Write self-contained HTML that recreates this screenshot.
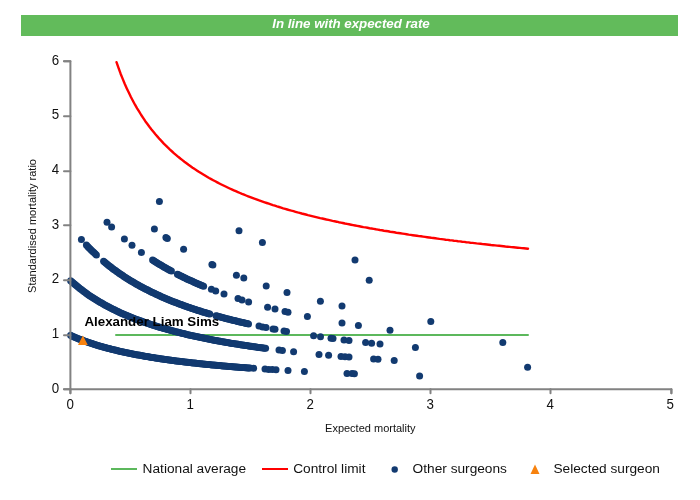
<!DOCTYPE html>
<html><head><meta charset="utf-8"><title>Funnel plot</title>
<style>
html,body{margin:0;padding:0;background:#fff;}
body{width:700px;height:500px;overflow:hidden;position:relative;font-family:"Liberation Sans",sans-serif;}
#banner{position:absolute;left:21px;top:15px;width:657px;height:21px;background:#62bb5b;color:#fff;font-weight:bold;font-style:italic;font-size:13.33px;line-height:18.5px;text-align:center;letter-spacing:-0.04px;text-indent:3px;}
svg{position:absolute;left:0;top:0;}
svg text{font-family:"Liberation Sans",sans-serif;}
</style></head><body>
<div id="banner">In line with expected rate</div>
<svg width="700" height="500" viewBox="0 0 700 500">
<line x1="116" y1="335.1" x2="528" y2="335.1" stroke="#5cb85c" stroke-width="2" stroke-linecap="round"/>
<polyline points="116.5,62.2 118.6,68.1 120.6,73.7 122.7,78.9 124.7,83.8 126.8,88.4 128.9,92.8 130.9,97.0 133.0,101.0 135.0,104.7 137.1,108.3 139.2,111.7 141.2,115.0 143.3,118.1 145.3,121.2 147.4,124.0 149.4,126.8 151.5,129.5 153.6,132.0 155.6,134.5 157.7,136.9 159.7,139.2 161.8,141.4 163.8,143.6 165.9,145.6 168.0,147.7 170.0,149.6 172.1,151.5 174.1,153.3 176.2,155.1 178.2,156.8 180.3,158.5 182.4,160.1 184.4,161.7 186.5,163.3 188.5,164.8 190.6,166.3 192.6,167.7 194.7,169.1 196.8,170.4 198.8,171.8 200.9,173.1 202.9,174.3 205.0,175.6 207.0,176.8 209.1,178.0 211.2,179.1 213.2,180.2 215.3,181.3 217.3,182.4 219.4,183.5 221.4,184.5 223.5,185.5 225.6,186.5 227.6,187.5 229.7,188.5 231.7,189.4 233.8,190.3 235.8,191.2 237.9,192.1 240.0,193.0 242.0,193.9 244.1,194.7 246.1,195.5 248.2,196.3 250.3,197.1 252.3,197.9 254.4,198.7 256.4,199.4 258.5,200.2 260.5,200.9 262.6,201.6 264.7,202.3 266.7,203.0 268.8,203.7 270.8,204.4 272.9,205.1 274.9,205.7 277.0,206.4 279.1,207.0 281.1,207.6 283.2,208.3 285.2,208.9 287.3,209.5 289.3,210.1 291.4,210.7 293.5,211.2 295.5,211.8 297.6,212.4 299.6,212.9 301.7,213.5 303.7,214.0 305.8,214.5 307.9,215.1 309.9,215.6 312.0,216.1 314.0,216.6 316.1,217.1 318.1,217.6 320.2,218.1 322.3,218.5 324.3,219.0 326.4,219.5 328.4,219.9 330.5,220.4 332.5,220.9 334.6,221.3 336.7,221.7 338.7,222.2 340.8,222.6 342.8,223.0 344.9,223.5 346.9,223.9 349.0,224.3 351.1,224.7 353.1,225.1 355.2,225.5 357.2,225.9 359.3,226.3 361.4,226.7 363.4,227.1 365.5,227.4 367.5,227.8 369.6,228.2 371.6,228.5 373.7,228.9 375.8,229.3 377.8,229.6 379.9,230.0 381.9,230.3 384.0,230.7 386.0,231.0 388.1,231.3 390.2,231.7 392.2,232.0 394.3,232.3 396.3,232.7 398.4,233.0 400.4,233.3 402.5,233.6 404.6,233.9 406.6,234.2 408.7,234.6 410.7,234.9 412.8,235.2 414.8,235.5 416.9,235.8 419.0,236.1 421.0,236.3 423.1,236.6 425.1,236.9 427.2,237.2 429.2,237.5 431.3,237.8 433.4,238.0 435.4,238.3 437.5,238.6 439.5,238.9 441.6,239.1 443.6,239.4 445.7,239.7 447.8,239.9 449.8,240.2 451.9,240.4 453.9,240.7 456.0,240.9 458.0,241.2 460.1,241.4 462.2,241.7 464.2,241.9 466.3,242.2 468.3,242.4 470.4,242.7 472.5,242.9 474.5,243.1 476.6,243.4 478.6,243.6 480.7,243.8 482.7,244.1 484.8,244.3 486.9,244.5 488.9,244.7 491.0,245.0 493.0,245.2 495.1,245.4 497.1,245.6 499.2,245.8 501.3,246.0 503.3,246.2 505.4,246.5 507.4,246.7 509.5,246.9 511.5,247.1 513.6,247.3 515.7,247.5 517.7,247.7 519.8,247.9 521.8,248.1 523.9,248.3 525.9,248.5 528.0,248.7" fill="none" stroke="#f00" stroke-width="2.4" stroke-linecap="round" stroke-linejoin="round"/>
<g fill="#123a70">
<circle cx="70.6" cy="335.3" r="3.5"/>
<circle cx="71.8" cy="335.9" r="3.5"/>
<circle cx="73.0" cy="336.4" r="3.5"/>
<circle cx="74.2" cy="336.9" r="3.5"/>
<circle cx="75.4" cy="337.4" r="3.5"/>
<circle cx="76.6" cy="337.9" r="3.5"/>
<circle cx="77.8" cy="338.4" r="3.5"/>
<circle cx="79.0" cy="338.9" r="3.5"/>
<circle cx="80.2" cy="339.4" r="3.5"/>
<circle cx="81.4" cy="339.8" r="3.5"/>
<circle cx="82.6" cy="340.3" r="3.5"/>
<circle cx="83.8" cy="340.7" r="3.5"/>
<circle cx="85.0" cy="341.2" r="3.5"/>
<circle cx="86.1" cy="341.6" r="3.5"/>
<circle cx="87.3" cy="342.0" r="3.5"/>
<circle cx="88.5" cy="342.4" r="3.5"/>
<circle cx="89.7" cy="342.8" r="3.5"/>
<circle cx="90.9" cy="343.2" r="3.5"/>
<circle cx="92.1" cy="343.6" r="3.5"/>
<circle cx="93.3" cy="344.0" r="3.5"/>
<circle cx="94.5" cy="344.4" r="3.5"/>
<circle cx="95.7" cy="344.8" r="3.5"/>
<circle cx="96.9" cy="345.2" r="3.5"/>
<circle cx="98.1" cy="345.5" r="3.5"/>
<circle cx="99.3" cy="345.9" r="3.5"/>
<circle cx="100.5" cy="346.2" r="3.5"/>
<circle cx="101.7" cy="346.6" r="3.5"/>
<circle cx="102.9" cy="346.9" r="3.5"/>
<circle cx="104.1" cy="347.2" r="3.5"/>
<circle cx="105.3" cy="347.6" r="3.5"/>
<circle cx="106.5" cy="347.9" r="3.5"/>
<circle cx="107.7" cy="348.2" r="3.5"/>
<circle cx="108.9" cy="348.5" r="3.5"/>
<circle cx="110.1" cy="348.8" r="3.5"/>
<circle cx="111.3" cy="349.2" r="3.5"/>
<circle cx="112.5" cy="349.5" r="3.5"/>
<circle cx="113.7" cy="349.8" r="3.5"/>
<circle cx="114.9" cy="350.0" r="3.5"/>
<circle cx="116.0" cy="350.3" r="3.5"/>
<circle cx="117.2" cy="350.6" r="3.5"/>
<circle cx="118.4" cy="350.9" r="3.5"/>
<circle cx="119.6" cy="351.2" r="3.5"/>
<circle cx="120.8" cy="351.4" r="3.5"/>
<circle cx="122.0" cy="351.7" r="3.5"/>
<circle cx="123.2" cy="352.0" r="3.5"/>
<circle cx="124.4" cy="352.2" r="3.5"/>
<circle cx="125.6" cy="352.5" r="3.5"/>
<circle cx="126.8" cy="352.8" r="3.5"/>
<circle cx="128.0" cy="353.0" r="3.5"/>
<circle cx="129.2" cy="353.3" r="3.5"/>
<circle cx="130.4" cy="353.5" r="3.5"/>
<circle cx="131.6" cy="353.7" r="3.5"/>
<circle cx="132.8" cy="354.0" r="3.5"/>
<circle cx="134.0" cy="354.2" r="3.5"/>
<circle cx="135.2" cy="354.4" r="3.5"/>
<circle cx="136.4" cy="354.7" r="3.5"/>
<circle cx="137.6" cy="354.9" r="3.5"/>
<circle cx="138.8" cy="355.1" r="3.5"/>
<circle cx="140.0" cy="355.3" r="3.5"/>
<circle cx="141.2" cy="355.6" r="3.5"/>
<circle cx="142.4" cy="355.8" r="3.5"/>
<circle cx="143.6" cy="356.0" r="3.5"/>
<circle cx="144.8" cy="356.2" r="3.5"/>
<circle cx="145.9" cy="356.4" r="3.5"/>
<circle cx="147.1" cy="356.6" r="3.5"/>
<circle cx="148.3" cy="356.8" r="3.5"/>
<circle cx="149.5" cy="357.0" r="3.5"/>
<circle cx="150.7" cy="357.2" r="3.5"/>
<circle cx="151.9" cy="357.4" r="3.5"/>
<circle cx="153.1" cy="357.6" r="3.5"/>
<circle cx="154.3" cy="357.8" r="3.5"/>
<circle cx="155.5" cy="358.0" r="3.5"/>
<circle cx="156.7" cy="358.2" r="3.5"/>
<circle cx="157.9" cy="358.3" r="3.5"/>
<circle cx="159.1" cy="358.5" r="3.5"/>
<circle cx="160.3" cy="358.7" r="3.5"/>
<circle cx="161.5" cy="358.9" r="3.5"/>
<circle cx="162.7" cy="359.1" r="3.5"/>
<circle cx="163.9" cy="359.2" r="3.5"/>
<circle cx="165.1" cy="359.4" r="3.5"/>
<circle cx="166.3" cy="359.6" r="3.5"/>
<circle cx="167.5" cy="359.7" r="3.5"/>
<circle cx="168.7" cy="359.9" r="3.5"/>
<circle cx="169.9" cy="360.1" r="3.5"/>
<circle cx="171.1" cy="360.2" r="3.5"/>
<circle cx="172.3" cy="360.4" r="3.5"/>
<circle cx="173.5" cy="360.5" r="3.5"/>
<circle cx="174.7" cy="360.7" r="3.5"/>
<circle cx="175.8" cy="360.9" r="3.5"/>
<circle cx="177.0" cy="361.0" r="3.5"/>
<circle cx="178.2" cy="361.2" r="3.5"/>
<circle cx="179.4" cy="361.3" r="3.5"/>
<circle cx="180.6" cy="361.5" r="3.5"/>
<circle cx="181.8" cy="361.6" r="3.5"/>
<circle cx="183.0" cy="361.8" r="3.5"/>
<circle cx="184.2" cy="361.9" r="3.5"/>
<circle cx="185.4" cy="362.0" r="3.5"/>
<circle cx="186.6" cy="362.2" r="3.5"/>
<circle cx="187.8" cy="362.3" r="3.5"/>
<circle cx="189.0" cy="362.5" r="3.5"/>
<circle cx="190.2" cy="362.6" r="3.5"/>
<circle cx="191.4" cy="362.7" r="3.5"/>
<circle cx="192.6" cy="362.9" r="3.5"/>
<circle cx="193.8" cy="363.0" r="3.5"/>
<circle cx="195.0" cy="363.1" r="3.5"/>
<circle cx="196.2" cy="363.3" r="3.5"/>
<circle cx="197.4" cy="363.4" r="3.5"/>
<circle cx="198.6" cy="363.5" r="3.5"/>
<circle cx="199.8" cy="363.7" r="3.5"/>
<circle cx="201.0" cy="363.8" r="3.5"/>
<circle cx="202.2" cy="363.9" r="3.5"/>
<circle cx="203.4" cy="364.0" r="3.5"/>
<circle cx="204.6" cy="364.2" r="3.5"/>
<circle cx="205.7" cy="364.3" r="3.5"/>
<circle cx="206.9" cy="364.4" r="3.5"/>
<circle cx="208.1" cy="364.5" r="3.5"/>
<circle cx="209.3" cy="364.6" r="3.5"/>
<circle cx="210.5" cy="364.7" r="3.5"/>
<circle cx="211.7" cy="364.9" r="3.5"/>
<circle cx="212.9" cy="365.0" r="3.5"/>
<circle cx="214.1" cy="365.1" r="3.5"/>
<circle cx="215.3" cy="365.2" r="3.5"/>
<circle cx="216.5" cy="365.3" r="3.5"/>
<circle cx="217.7" cy="365.4" r="3.5"/>
<circle cx="218.9" cy="365.5" r="3.5"/>
<circle cx="220.1" cy="365.6" r="3.5"/>
<circle cx="221.3" cy="365.8" r="3.5"/>
<circle cx="222.5" cy="365.9" r="3.5"/>
<circle cx="223.7" cy="366.0" r="3.5"/>
<circle cx="224.9" cy="366.1" r="3.5"/>
<circle cx="226.1" cy="366.2" r="3.5"/>
<circle cx="227.3" cy="366.3" r="3.5"/>
<circle cx="228.5" cy="366.4" r="3.5"/>
<circle cx="229.7" cy="366.5" r="3.5"/>
<circle cx="230.9" cy="366.6" r="3.5"/>
<circle cx="232.1" cy="366.7" r="3.5"/>
<circle cx="233.3" cy="366.8" r="3.5"/>
<circle cx="234.5" cy="366.9" r="3.5"/>
<circle cx="235.6" cy="367.0" r="3.5"/>
<circle cx="236.8" cy="367.1" r="3.5"/>
<circle cx="238.0" cy="367.2" r="3.5"/>
<circle cx="239.2" cy="367.3" r="3.5"/>
<circle cx="240.4" cy="367.4" r="3.5"/>
<circle cx="241.6" cy="367.4" r="3.5"/>
<circle cx="242.8" cy="367.5" r="3.5"/>
<circle cx="244.0" cy="367.6" r="3.5"/>
<circle cx="245.2" cy="367.7" r="3.5"/>
<circle cx="246.4" cy="367.8" r="3.5"/>
<circle cx="247.6" cy="367.9" r="3.5"/>
<circle cx="248.8" cy="368.0" r="3.5"/>
<circle cx="250.0" cy="368.1" r="3.5"/>
<circle cx="253.6" cy="368.3" r="3.5"/>
<circle cx="265.0" cy="369.1" r="3.5"/>
<circle cx="268.7" cy="369.4" r="3.5"/>
<circle cx="272.3" cy="369.6" r="3.5"/>
<circle cx="276.0" cy="369.8" r="3.5"/>
<circle cx="288.0" cy="370.5" r="3.5"/>
<circle cx="304.4" cy="371.4" r="3.5"/>
<circle cx="347.0" cy="373.4" r="3.5"/>
<circle cx="352.0" cy="373.6" r="3.5"/>
<circle cx="354.4" cy="373.7" r="3.5"/>
<circle cx="419.6" cy="376.0" r="3.5"/>
<circle cx="70.6" cy="280.7" r="3.5"/>
<circle cx="71.8" cy="281.7" r="3.5"/>
<circle cx="73.0" cy="282.8" r="3.5"/>
<circle cx="74.2" cy="283.8" r="3.5"/>
<circle cx="75.4" cy="284.8" r="3.5"/>
<circle cx="76.6" cy="285.8" r="3.5"/>
<circle cx="77.8" cy="286.8" r="3.5"/>
<circle cx="79.0" cy="287.8" r="3.5"/>
<circle cx="80.2" cy="288.7" r="3.5"/>
<circle cx="81.4" cy="289.6" r="3.5"/>
<circle cx="82.6" cy="290.6" r="3.5"/>
<circle cx="83.8" cy="291.4" r="3.5"/>
<circle cx="85.0" cy="292.3" r="3.5"/>
<circle cx="86.2" cy="293.2" r="3.5"/>
<circle cx="87.3" cy="294.0" r="3.5"/>
<circle cx="88.5" cy="294.9" r="3.5"/>
<circle cx="89.7" cy="295.7" r="3.5"/>
<circle cx="90.9" cy="296.5" r="3.5"/>
<circle cx="92.1" cy="297.3" r="3.5"/>
<circle cx="93.3" cy="298.1" r="3.5"/>
<circle cx="94.5" cy="298.8" r="3.5"/>
<circle cx="95.7" cy="299.6" r="3.5"/>
<circle cx="96.9" cy="300.3" r="3.5"/>
<circle cx="98.1" cy="301.0" r="3.5"/>
<circle cx="99.3" cy="301.7" r="3.5"/>
<circle cx="100.5" cy="302.5" r="3.5"/>
<circle cx="101.7" cy="303.1" r="3.5"/>
<circle cx="102.9" cy="303.8" r="3.5"/>
<circle cx="104.1" cy="304.5" r="3.5"/>
<circle cx="105.3" cy="305.2" r="3.5"/>
<circle cx="106.5" cy="305.8" r="3.5"/>
<circle cx="107.7" cy="306.5" r="3.5"/>
<circle cx="108.9" cy="307.1" r="3.5"/>
<circle cx="110.1" cy="307.7" r="3.5"/>
<circle cx="111.3" cy="308.3" r="3.5"/>
<circle cx="112.5" cy="308.9" r="3.5"/>
<circle cx="113.7" cy="309.5" r="3.5"/>
<circle cx="114.9" cy="310.1" r="3.5"/>
<circle cx="116.1" cy="310.7" r="3.5"/>
<circle cx="117.3" cy="311.2" r="3.5"/>
<circle cx="118.5" cy="311.8" r="3.5"/>
<circle cx="119.6" cy="312.4" r="3.5"/>
<circle cx="120.8" cy="312.9" r="3.5"/>
<circle cx="122.0" cy="313.4" r="3.5"/>
<circle cx="123.2" cy="314.0" r="3.5"/>
<circle cx="124.4" cy="314.5" r="3.5"/>
<circle cx="125.6" cy="315.0" r="3.5"/>
<circle cx="126.8" cy="315.5" r="3.5"/>
<circle cx="128.0" cy="316.0" r="3.5"/>
<circle cx="129.2" cy="316.5" r="3.5"/>
<circle cx="130.4" cy="317.0" r="3.5"/>
<circle cx="131.6" cy="317.5" r="3.5"/>
<circle cx="132.8" cy="318.0" r="3.5"/>
<circle cx="134.0" cy="318.4" r="3.5"/>
<circle cx="135.2" cy="318.9" r="3.5"/>
<circle cx="136.4" cy="319.4" r="3.5"/>
<circle cx="137.6" cy="319.8" r="3.5"/>
<circle cx="138.8" cy="320.3" r="3.5"/>
<circle cx="140.0" cy="320.7" r="3.5"/>
<circle cx="141.2" cy="321.1" r="3.5"/>
<circle cx="142.4" cy="321.6" r="3.5"/>
<circle cx="143.6" cy="322.0" r="3.5"/>
<circle cx="144.8" cy="322.4" r="3.5"/>
<circle cx="146.0" cy="322.8" r="3.5"/>
<circle cx="147.2" cy="323.2" r="3.5"/>
<circle cx="148.4" cy="323.6" r="3.5"/>
<circle cx="149.6" cy="324.0" r="3.5"/>
<circle cx="150.8" cy="324.4" r="3.5"/>
<circle cx="151.9" cy="324.8" r="3.5"/>
<circle cx="153.1" cy="325.2" r="3.5"/>
<circle cx="154.3" cy="325.6" r="3.5"/>
<circle cx="155.5" cy="325.9" r="3.5"/>
<circle cx="156.7" cy="326.3" r="3.5"/>
<circle cx="157.9" cy="326.7" r="3.5"/>
<circle cx="159.1" cy="327.1" r="3.5"/>
<circle cx="160.3" cy="327.4" r="3.5"/>
<circle cx="161.5" cy="327.8" r="3.5"/>
<circle cx="162.7" cy="328.1" r="3.5"/>
<circle cx="163.9" cy="328.5" r="3.5"/>
<circle cx="165.1" cy="328.8" r="3.5"/>
<circle cx="166.3" cy="329.1" r="3.5"/>
<circle cx="167.5" cy="329.5" r="3.5"/>
<circle cx="168.7" cy="329.8" r="3.5"/>
<circle cx="169.9" cy="330.1" r="3.5"/>
<circle cx="171.1" cy="330.5" r="3.5"/>
<circle cx="172.3" cy="330.8" r="3.5"/>
<circle cx="173.5" cy="331.1" r="3.5"/>
<circle cx="174.7" cy="331.4" r="3.5"/>
<circle cx="175.9" cy="331.7" r="3.5"/>
<circle cx="177.1" cy="332.0" r="3.5"/>
<circle cx="178.3" cy="332.3" r="3.5"/>
<circle cx="179.5" cy="332.6" r="3.5"/>
<circle cx="180.7" cy="332.9" r="3.5"/>
<circle cx="181.9" cy="333.2" r="3.5"/>
<circle cx="183.1" cy="333.5" r="3.5"/>
<circle cx="184.3" cy="333.8" r="3.5"/>
<circle cx="185.4" cy="334.1" r="3.5"/>
<circle cx="186.6" cy="334.4" r="3.5"/>
<circle cx="187.8" cy="334.7" r="3.5"/>
<circle cx="189.0" cy="334.9" r="3.5"/>
<circle cx="190.2" cy="335.2" r="3.5"/>
<circle cx="191.4" cy="335.5" r="3.5"/>
<circle cx="192.6" cy="335.8" r="3.5"/>
<circle cx="193.8" cy="336.0" r="3.5"/>
<circle cx="195.0" cy="336.3" r="3.5"/>
<circle cx="196.2" cy="336.6" r="3.5"/>
<circle cx="197.4" cy="336.8" r="3.5"/>
<circle cx="198.6" cy="337.1" r="3.5"/>
<circle cx="199.8" cy="337.3" r="3.5"/>
<circle cx="201.0" cy="337.6" r="3.5"/>
<circle cx="202.2" cy="337.8" r="3.5"/>
<circle cx="203.4" cy="338.1" r="3.5"/>
<circle cx="204.6" cy="338.3" r="3.5"/>
<circle cx="205.8" cy="338.6" r="3.5"/>
<circle cx="207.0" cy="338.8" r="3.5"/>
<circle cx="208.2" cy="339.0" r="3.5"/>
<circle cx="209.4" cy="339.3" r="3.5"/>
<circle cx="210.6" cy="339.5" r="3.5"/>
<circle cx="211.8" cy="339.7" r="3.5"/>
<circle cx="213.0" cy="340.0" r="3.5"/>
<circle cx="214.2" cy="340.2" r="3.5"/>
<circle cx="215.4" cy="340.4" r="3.5"/>
<circle cx="216.6" cy="340.6" r="3.5"/>
<circle cx="217.7" cy="340.9" r="3.5"/>
<circle cx="218.9" cy="341.1" r="3.5"/>
<circle cx="220.1" cy="341.3" r="3.5"/>
<circle cx="221.3" cy="341.5" r="3.5"/>
<circle cx="222.5" cy="341.7" r="3.5"/>
<circle cx="223.7" cy="341.9" r="3.5"/>
<circle cx="224.9" cy="342.1" r="3.5"/>
<circle cx="226.1" cy="342.4" r="3.5"/>
<circle cx="227.3" cy="342.6" r="3.5"/>
<circle cx="228.5" cy="342.8" r="3.5"/>
<circle cx="229.7" cy="343.0" r="3.5"/>
<circle cx="230.9" cy="343.2" r="3.5"/>
<circle cx="232.1" cy="343.4" r="3.5"/>
<circle cx="233.3" cy="343.6" r="3.5"/>
<circle cx="234.5" cy="343.8" r="3.5"/>
<circle cx="235.7" cy="344.0" r="3.5"/>
<circle cx="236.9" cy="344.1" r="3.5"/>
<circle cx="238.1" cy="344.3" r="3.5"/>
<circle cx="239.3" cy="344.5" r="3.5"/>
<circle cx="240.5" cy="344.7" r="3.5"/>
<circle cx="241.7" cy="344.9" r="3.5"/>
<circle cx="242.9" cy="345.1" r="3.5"/>
<circle cx="244.1" cy="345.3" r="3.5"/>
<circle cx="245.3" cy="345.4" r="3.5"/>
<circle cx="246.5" cy="345.6" r="3.5"/>
<circle cx="247.7" cy="345.8" r="3.5"/>
<circle cx="248.9" cy="346.0" r="3.5"/>
<circle cx="250.0" cy="346.2" r="3.5"/>
<circle cx="251.2" cy="346.3" r="3.5"/>
<circle cx="252.4" cy="346.5" r="3.5"/>
<circle cx="253.6" cy="346.7" r="3.5"/>
<circle cx="254.8" cy="346.8" r="3.5"/>
<circle cx="256.0" cy="347.0" r="3.5"/>
<circle cx="257.2" cy="347.2" r="3.5"/>
<circle cx="258.4" cy="347.4" r="3.5"/>
<circle cx="259.6" cy="347.5" r="3.5"/>
<circle cx="260.8" cy="347.7" r="3.5"/>
<circle cx="262.0" cy="347.8" r="3.5"/>
<circle cx="263.2" cy="348.0" r="3.5"/>
<circle cx="264.4" cy="348.2" r="3.5"/>
<circle cx="265.6" cy="348.3" r="3.5"/>
<circle cx="279.0" cy="350.0" r="3.5"/>
<circle cx="282.4" cy="350.4" r="3.5"/>
<circle cx="293.6" cy="351.7" r="3.5"/>
<circle cx="319.0" cy="354.4" r="3.5"/>
<circle cx="328.6" cy="355.3" r="3.5"/>
<circle cx="341.0" cy="356.4" r="3.5"/>
<circle cx="345.0" cy="356.7" r="3.5"/>
<circle cx="349.0" cy="357.0" r="3.5"/>
<circle cx="373.6" cy="359.0" r="3.5"/>
<circle cx="378.0" cy="359.3" r="3.5"/>
<circle cx="394.2" cy="360.4" r="3.5"/>
<circle cx="527.6" cy="367.2" r="3.5"/>
<circle cx="81.4" cy="239.5" r="3.5"/>
<circle cx="86.4" cy="245.0" r="3.5"/>
<circle cx="87.7" cy="246.4" r="3.5"/>
<circle cx="88.9" cy="247.7" r="3.5"/>
<circle cx="90.2" cy="248.9" r="3.5"/>
<circle cx="91.4" cy="250.2" r="3.5"/>
<circle cx="92.7" cy="251.4" r="3.5"/>
<circle cx="93.9" cy="252.6" r="3.5"/>
<circle cx="95.2" cy="253.8" r="3.5"/>
<circle cx="96.4" cy="255.0" r="3.5"/>
<circle cx="103.6" cy="261.3" r="3.5"/>
<circle cx="104.8" cy="262.3" r="3.5"/>
<circle cx="106.0" cy="263.3" r="3.5"/>
<circle cx="107.2" cy="264.3" r="3.5"/>
<circle cx="108.4" cy="265.2" r="3.5"/>
<circle cx="109.6" cy="266.2" r="3.5"/>
<circle cx="110.8" cy="267.1" r="3.5"/>
<circle cx="112.0" cy="268.0" r="3.5"/>
<circle cx="113.1" cy="268.9" r="3.5"/>
<circle cx="114.3" cy="269.8" r="3.5"/>
<circle cx="115.5" cy="270.6" r="3.5"/>
<circle cx="116.7" cy="271.5" r="3.5"/>
<circle cx="117.9" cy="272.3" r="3.5"/>
<circle cx="119.1" cy="273.2" r="3.5"/>
<circle cx="120.3" cy="274.0" r="3.5"/>
<circle cx="121.5" cy="274.8" r="3.5"/>
<circle cx="122.7" cy="275.6" r="3.5"/>
<circle cx="123.9" cy="276.4" r="3.5"/>
<circle cx="125.1" cy="277.2" r="3.5"/>
<circle cx="126.3" cy="277.9" r="3.5"/>
<circle cx="127.5" cy="278.7" r="3.5"/>
<circle cx="128.7" cy="279.4" r="3.5"/>
<circle cx="129.9" cy="280.2" r="3.5"/>
<circle cx="131.0" cy="280.9" r="3.5"/>
<circle cx="132.2" cy="281.6" r="3.5"/>
<circle cx="133.4" cy="282.3" r="3.5"/>
<circle cx="134.6" cy="283.0" r="3.5"/>
<circle cx="135.8" cy="283.7" r="3.5"/>
<circle cx="137.0" cy="284.4" r="3.5"/>
<circle cx="138.2" cy="285.1" r="3.5"/>
<circle cx="139.4" cy="285.7" r="3.5"/>
<circle cx="140.6" cy="286.4" r="3.5"/>
<circle cx="141.8" cy="287.0" r="3.5"/>
<circle cx="143.0" cy="287.7" r="3.5"/>
<circle cx="144.2" cy="288.3" r="3.5"/>
<circle cx="145.4" cy="288.9" r="3.5"/>
<circle cx="146.6" cy="289.5" r="3.5"/>
<circle cx="147.8" cy="290.1" r="3.5"/>
<circle cx="148.9" cy="290.7" r="3.5"/>
<circle cx="150.1" cy="291.3" r="3.5"/>
<circle cx="151.3" cy="291.9" r="3.5"/>
<circle cx="152.5" cy="292.5" r="3.5"/>
<circle cx="153.7" cy="293.1" r="3.5"/>
<circle cx="154.9" cy="293.6" r="3.5"/>
<circle cx="156.1" cy="294.2" r="3.5"/>
<circle cx="157.3" cy="294.7" r="3.5"/>
<circle cx="158.5" cy="295.3" r="3.5"/>
<circle cx="159.7" cy="295.8" r="3.5"/>
<circle cx="160.9" cy="296.4" r="3.5"/>
<circle cx="162.1" cy="296.9" r="3.5"/>
<circle cx="163.3" cy="297.4" r="3.5"/>
<circle cx="164.5" cy="297.9" r="3.5"/>
<circle cx="165.6" cy="298.4" r="3.5"/>
<circle cx="166.8" cy="298.9" r="3.5"/>
<circle cx="168.0" cy="299.4" r="3.5"/>
<circle cx="169.2" cy="299.9" r="3.5"/>
<circle cx="170.4" cy="300.4" r="3.5"/>
<circle cx="171.6" cy="300.9" r="3.5"/>
<circle cx="172.8" cy="301.4" r="3.5"/>
<circle cx="174.0" cy="301.9" r="3.5"/>
<circle cx="175.2" cy="302.3" r="3.5"/>
<circle cx="176.4" cy="302.8" r="3.5"/>
<circle cx="177.6" cy="303.3" r="3.5"/>
<circle cx="178.8" cy="303.7" r="3.5"/>
<circle cx="180.0" cy="304.2" r="3.5"/>
<circle cx="181.2" cy="304.6" r="3.5"/>
<circle cx="182.4" cy="305.0" r="3.5"/>
<circle cx="183.5" cy="305.5" r="3.5"/>
<circle cx="184.7" cy="305.9" r="3.5"/>
<circle cx="185.9" cy="306.3" r="3.5"/>
<circle cx="187.1" cy="306.8" r="3.5"/>
<circle cx="188.3" cy="307.2" r="3.5"/>
<circle cx="189.5" cy="307.6" r="3.5"/>
<circle cx="190.7" cy="308.0" r="3.5"/>
<circle cx="191.9" cy="308.4" r="3.5"/>
<circle cx="193.1" cy="308.8" r="3.5"/>
<circle cx="194.3" cy="309.2" r="3.5"/>
<circle cx="195.5" cy="309.6" r="3.5"/>
<circle cx="196.7" cy="310.0" r="3.5"/>
<circle cx="197.9" cy="310.4" r="3.5"/>
<circle cx="199.1" cy="310.7" r="3.5"/>
<circle cx="200.3" cy="311.1" r="3.5"/>
<circle cx="201.4" cy="311.5" r="3.5"/>
<circle cx="202.6" cy="311.9" r="3.5"/>
<circle cx="203.8" cy="312.2" r="3.5"/>
<circle cx="205.0" cy="312.6" r="3.5"/>
<circle cx="206.2" cy="313.0" r="3.5"/>
<circle cx="207.4" cy="313.3" r="3.5"/>
<circle cx="208.6" cy="313.7" r="3.5"/>
<circle cx="209.8" cy="314.0" r="3.5"/>
<circle cx="216.0" cy="315.8" r="3.5"/>
<circle cx="217.2" cy="316.1" r="3.5"/>
<circle cx="218.4" cy="316.5" r="3.5"/>
<circle cx="219.6" cy="316.8" r="3.5"/>
<circle cx="220.8" cy="317.1" r="3.5"/>
<circle cx="222.0" cy="317.4" r="3.5"/>
<circle cx="223.2" cy="317.8" r="3.5"/>
<circle cx="224.4" cy="318.1" r="3.5"/>
<circle cx="225.6" cy="318.4" r="3.5"/>
<circle cx="226.8" cy="318.7" r="3.5"/>
<circle cx="228.0" cy="319.0" r="3.5"/>
<circle cx="229.2" cy="319.3" r="3.5"/>
<circle cx="230.4" cy="319.6" r="3.5"/>
<circle cx="231.6" cy="319.9" r="3.5"/>
<circle cx="232.9" cy="320.2" r="3.5"/>
<circle cx="234.1" cy="320.5" r="3.5"/>
<circle cx="235.3" cy="320.8" r="3.5"/>
<circle cx="236.5" cy="321.1" r="3.5"/>
<circle cx="237.7" cy="321.4" r="3.5"/>
<circle cx="238.9" cy="321.7" r="3.5"/>
<circle cx="240.1" cy="322.0" r="3.5"/>
<circle cx="241.3" cy="322.3" r="3.5"/>
<circle cx="242.5" cy="322.5" r="3.5"/>
<circle cx="243.7" cy="322.8" r="3.5"/>
<circle cx="244.9" cy="323.1" r="3.5"/>
<circle cx="246.1" cy="323.4" r="3.5"/>
<circle cx="247.3" cy="323.6" r="3.5"/>
<circle cx="248.5" cy="323.9" r="3.5"/>
<circle cx="259.0" cy="326.1" r="3.5"/>
<circle cx="262.5" cy="326.9" r="3.5"/>
<circle cx="266.0" cy="327.6" r="3.5"/>
<circle cx="273.0" cy="328.9" r="3.5"/>
<circle cx="275.0" cy="329.3" r="3.5"/>
<circle cx="284.0" cy="330.9" r="3.5"/>
<circle cx="286.5" cy="331.4" r="3.5"/>
<circle cx="313.6" cy="335.7" r="3.5"/>
<circle cx="320.5" cy="336.8" r="3.5"/>
<circle cx="331.0" cy="338.2" r="3.5"/>
<circle cx="333.0" cy="338.5" r="3.5"/>
<circle cx="344.0" cy="339.9" r="3.5"/>
<circle cx="349.0" cy="340.6" r="3.5"/>
<circle cx="365.6" cy="342.5" r="3.5"/>
<circle cx="371.6" cy="343.2" r="3.5"/>
<circle cx="380.0" cy="344.1" r="3.5"/>
<circle cx="415.4" cy="347.6" r="3.5"/>
<circle cx="107.0" cy="222.2" r="3.5"/>
<circle cx="111.6" cy="227.0" r="3.5"/>
<circle cx="124.4" cy="239.0" r="3.5"/>
<circle cx="132.0" cy="245.3" r="3.5"/>
<circle cx="141.4" cy="252.4" r="3.5"/>
<circle cx="152.6" cy="260.0" r="3.5"/>
<circle cx="153.8" cy="260.8" r="3.5"/>
<circle cx="154.9" cy="261.5" r="3.5"/>
<circle cx="156.1" cy="262.3" r="3.5"/>
<circle cx="157.3" cy="263.0" r="3.5"/>
<circle cx="158.5" cy="263.7" r="3.5"/>
<circle cx="159.7" cy="264.4" r="3.5"/>
<circle cx="160.8" cy="265.1" r="3.5"/>
<circle cx="162.0" cy="265.8" r="3.5"/>
<circle cx="163.2" cy="266.5" r="3.5"/>
<circle cx="164.3" cy="267.2" r="3.5"/>
<circle cx="165.5" cy="267.8" r="3.5"/>
<circle cx="166.7" cy="268.5" r="3.5"/>
<circle cx="167.9" cy="269.2" r="3.5"/>
<circle cx="169.1" cy="269.8" r="3.5"/>
<circle cx="170.2" cy="270.5" r="3.5"/>
<circle cx="171.4" cy="271.1" r="3.5"/>
<circle cx="177.4" cy="274.2" r="3.5"/>
<circle cx="178.6" cy="274.8" r="3.5"/>
<circle cx="179.8" cy="275.4" r="3.5"/>
<circle cx="181.0" cy="276.0" r="3.5"/>
<circle cx="182.2" cy="276.6" r="3.5"/>
<circle cx="183.4" cy="277.2" r="3.5"/>
<circle cx="184.5" cy="277.8" r="3.5"/>
<circle cx="185.7" cy="278.3" r="3.5"/>
<circle cx="186.9" cy="278.9" r="3.5"/>
<circle cx="188.1" cy="279.5" r="3.5"/>
<circle cx="189.3" cy="280.0" r="3.5"/>
<circle cx="190.5" cy="280.6" r="3.5"/>
<circle cx="191.7" cy="281.1" r="3.5"/>
<circle cx="192.9" cy="281.6" r="3.5"/>
<circle cx="194.1" cy="282.2" r="3.5"/>
<circle cx="195.3" cy="282.7" r="3.5"/>
<circle cx="196.5" cy="283.2" r="3.5"/>
<circle cx="197.6" cy="283.7" r="3.5"/>
<circle cx="198.8" cy="284.2" r="3.5"/>
<circle cx="200.0" cy="284.7" r="3.5"/>
<circle cx="201.2" cy="285.2" r="3.5"/>
<circle cx="202.4" cy="285.7" r="3.5"/>
<circle cx="203.6" cy="286.2" r="3.5"/>
<circle cx="211.4" cy="289.3" r="3.5"/>
<circle cx="215.7" cy="291.0" r="3.5"/>
<circle cx="224.0" cy="294.0" r="3.5"/>
<circle cx="238.0" cy="298.6" r="3.5"/>
<circle cx="242.0" cy="299.9" r="3.5"/>
<circle cx="248.6" cy="301.9" r="3.5"/>
<circle cx="267.6" cy="307.2" r="3.5"/>
<circle cx="275.0" cy="309.1" r="3.5"/>
<circle cx="285.0" cy="311.5" r="3.5"/>
<circle cx="288.0" cy="312.2" r="3.5"/>
<circle cx="307.4" cy="316.4" r="3.5"/>
<circle cx="342.0" cy="322.9" r="3.5"/>
<circle cx="358.4" cy="325.6" r="3.5"/>
<circle cx="390.0" cy="330.2" r="3.5"/>
<circle cx="502.8" cy="342.4" r="3.5"/>
<circle cx="154.4" cy="229.0" r="3.5"/>
<circle cx="165.9" cy="237.6" r="3.5"/>
<circle cx="167.3" cy="238.6" r="3.5"/>
<circle cx="183.6" cy="249.2" r="3.5"/>
<circle cx="211.9" cy="264.4" r="3.5"/>
<circle cx="212.9" cy="264.9" r="3.5"/>
<circle cx="236.4" cy="275.2" r="3.5"/>
<circle cx="243.8" cy="278.1" r="3.5"/>
<circle cx="266.2" cy="286.0" r="3.5"/>
<circle cx="287.0" cy="292.4" r="3.5"/>
<circle cx="320.4" cy="301.2" r="3.5"/>
<circle cx="342.0" cy="306.1" r="3.5"/>
<circle cx="430.8" cy="321.6" r="3.5"/>
<circle cx="159.4" cy="201.4" r="3.5"/>
<circle cx="239.0" cy="230.7" r="3.5"/>
<circle cx="262.4" cy="242.6" r="3.5"/>
<circle cx="369.2" cy="280.2" r="3.5"/>
<circle cx="355.0" cy="260.1" r="3.5"/>
</g>
<polygon points="82.9,335.4 87.8,344.9 78,344.9" fill="#f7820e"/>
<g stroke="#828282" stroke-width="2" fill="none" stroke-linecap="round" stroke-linejoin="round">
<polyline points="64,61.3 70.4,61.3 70.4,393.3"/>
<polyline points="64,389.3 671.4,389.3 671.4,393.3"/>
<line x1="64" y1="389.3" x2="70.4" y2="389.3"/>
<line x1="64" y1="335.3" x2="70.4" y2="335.3"/>
<line x1="64" y1="280.3" x2="70.4" y2="280.3"/>
<line x1="64" y1="225.3" x2="70.4" y2="225.3"/>
<line x1="64" y1="171.3" x2="70.4" y2="171.3"/>
<line x1="64" y1="116.3" x2="70.4" y2="116.3"/>
<line x1="64" y1="61.3" x2="70.4" y2="61.3"/>
<line x1="70.4" y1="389.3" x2="70.4" y2="393.3"/>
<line x1="190.5" y1="389.3" x2="190.5" y2="393.3"/>
<line x1="310.5" y1="389.3" x2="310.5" y2="393.3"/>
<line x1="430.5" y1="389.3" x2="430.5" y2="393.3"/>
<line x1="550.5" y1="389.3" x2="550.5" y2="393.3"/>
<line x1="671.4" y1="389.3" x2="671.4" y2="393.3"/>
</g>
<g font-size="13.33" fill="#111">
<text transform="translate(59.1,392.6) scale(1,1.07)" text-anchor="end">0</text>
<text transform="translate(59.1,337.9) scale(1,1.07)" text-anchor="end">1</text>
<text transform="translate(59.1,283.3) scale(1,1.07)" text-anchor="end">2</text>
<text transform="translate(59.1,228.6) scale(1,1.07)" text-anchor="end">3</text>
<text transform="translate(59.1,173.9) scale(1,1.07)" text-anchor="end">4</text>
<text transform="translate(59.1,119.2) scale(1,1.07)" text-anchor="end">5</text>
<text transform="translate(59.1,64.6) scale(1,1.07)" text-anchor="end">6</text>
<text transform="translate(70.3,409) scale(1,1.07)" text-anchor="middle">0</text>
<text transform="translate(190.3,409) scale(1,1.07)" text-anchor="middle">1</text>
<text transform="translate(310.3,409) scale(1,1.07)" text-anchor="middle">2</text>
<text transform="translate(430.3,409) scale(1,1.07)" text-anchor="middle">3</text>
<text transform="translate(550.3,409) scale(1,1.07)" text-anchor="middle">4</text>
<text transform="translate(670.3,409) scale(1,1.07)" text-anchor="middle">5</text>
</g>
<text x="84.4" y="326" font-size="13.33" font-weight="bold" fill="#000">Alexander Liam Sims</text>
<text x="370.3" y="431.6" font-size="11" text-anchor="middle" fill="#111">Expected mortality</text>
<text transform="translate(36.2,226) rotate(-90)" font-size="11" text-anchor="middle" fill="#111">Standardised mortality ratio</text>
<g font-size="13.7" fill="#111">
<line x1="111" y1="469" x2="137" y2="469" stroke="#5cb85c" stroke-width="2"/>
<text x="142.6" y="472.5">National average</text>
<line x1="262" y1="469" x2="288" y2="469" stroke="#f00" stroke-width="2"/>
<text x="293.2" y="472.5">Control limit</text>
<circle cx="394.7" cy="469.5" r="3.2" fill="#123a70"/>
<text x="412.6" y="472.5">Other surgeons</text>
<polygon points="535,464.4 539.5,473.9 530.5,473.9" fill="#f7820e"/>
<text x="553.4" y="472.5">Selected surgeon</text>
</g>
</svg>
</body></html>
